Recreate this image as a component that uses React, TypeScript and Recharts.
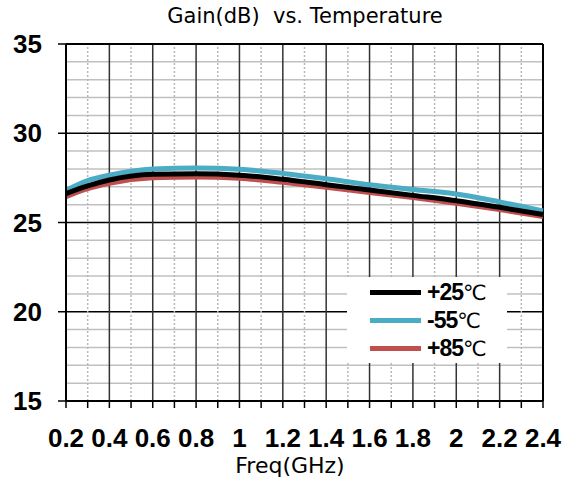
import React from 'react'
import { CartesianGrid, Line, LineChart, ReferenceLine, XAxis, YAxis } from 'recharts'

const freq = [0.2, 0.3, 0.4, 0.6, 0.8, 1, 1.2, 1.4, 1.6, 1.8, 2, 2.2, 2.4]
const gain25 = [26.62, 27.05, 27.38, 27.7, 27.73, 27.65, 27.42, 27.12, 26.82, 26.52, 26.22, 25.85, 25.45]
const gainM55 = [26.8, 27.35, 27.65, 28.0, 28.05, 27.98, 27.75, 27.45, 27.12, 26.85, 26.6, 26.15, 25.65]
const gain85 = [26.45, 26.9, 27.2, 27.5, 27.55, 27.48, 27.25, 26.98, 26.68, 26.4, 26.08, 25.72, 25.33]

const xTicks = [0.2, 0.3, 0.4, 0.5, 0.6, 0.7, 0.8, 0.9, 1, 1.1, 1.2, 1.3, 1.4, 1.5, 1.6, 1.7, 1.8, 1.9, 2, 2.1, 2.2, 2.3, 2.4]
const xMajor = [0.4, 0.6, 0.8, 1, 1.2, 1.4, 1.6, 1.8, 2, 2.2]
const xMinor = [0.3, 0.5, 0.7, 0.9, 1.1, 1.3, 1.5, 1.7, 1.9, 2.1, 2.3]
const yTicks = [15, 20, 25, 30, 35]
const yMinor = [16, 17, 18, 19, 21, 22, 23, 24, 26, 27, 28, 29, 31, 32, 33, 34]

const series = [
  { key: 'g25', name: '+25', color: '#000000', values: gain25 },
  { key: 'gm55', name: '-55', color: '#4bacc6', values: gainM55 },
  { key: 'g85', name: '+85', color: '#c0504d', values: gain85 },
]

const data = freq.map((f, i) => ({
  f,
  g25: gain25[i],
  gm55: gainM55[i],
  g85: gain85[i],
}))

const tickFont = { fontFamily: 'Liberation Sans, Arial, sans-serif', fontSize: 26, fontWeight: 'bold', fill: '#000' }

const LegendBox = () => (
  <div
    style={{
      position: 'absolute',
      left: 347,
      top: 277,
      background: '#fff',
      width: 160,
      height: 86,
      paddingTop: 1,
      boxSizing: 'border-box',
    }}
  >
    {series.map((s) => (
      <div key={s.key} style={{ display: 'flex', alignItems: 'center', height: 28 }}>
        <div style={{ marginLeft: 23, width: 51, height: 5, background: s.color }} />
        <span
          style={{
            marginLeft: 6,
            fontFamily: 'Liberation Sans, Arial, sans-serif',
            fontWeight: 'bold',
            fontSize: 23,
            lineHeight: '24px',
            letterSpacing: -1,
            color: '#000',
          }}
        >
          {s.name}
          <span
            style={{
              fontFamily: 'DejaVu Sans, sans-serif',
              fontWeight: 'normal',
              fontSize: 21,
              lineHeight: '24px',
              letterSpacing: 0,
            }}
          >
            ℃
          </span>
        </span>
      </div>
    ))}
  </div>
)

export default function App() {
  return (
    <div style={{ position: 'absolute', left: 0, top: 0, width: 563, height: 479, background: '#fff' }}>
      <div
        style={{
          position: 'absolute',
          top: 4,
          left: 0,
          width: 610,
          textAlign: 'center',
          fontFamily: 'DejaVu Sans, sans-serif',
          fontSize: 21,
          color: '#000',
        }}
      >
        Gain(dB)&nbsp;&nbsp;vs. Temperature
      </div>
      <LineChart width={563} height={479} data={data} margin={{ top: 44, right: 20, bottom: 0, left: 0 }}>
        <CartesianGrid vertical={false} stroke="#000" strokeWidth={1.5} />
        {yMinor.map((y) => (
          <ReferenceLine key={'y' + y} y={y} stroke="#c0c0c0" strokeWidth={1.5} />
        ))}
        {xMinor.map((x) => (
          <ReferenceLine key={'xm' + x} x={x} stroke="#b8b8b8" strokeDasharray="2 2" strokeWidth={1.5} />
        ))}
        {xMajor.map((x) => (
          <ReferenceLine key={'xM' + x} x={x} stroke="#333" strokeWidth={1.5} />
        ))}
        <ReferenceLine y={35} stroke="#000" strokeWidth={2} />
        <ReferenceLine x={2.4} stroke="#000" strokeWidth={2} />
        <XAxis
          dataKey="f"
          type="number"
          domain={[0.2, 2.4]}
          ticks={xTicks}
          interval={0}
          height={78}
          tickSize={7}
          tickMargin={21}
          axisLine={{ stroke: '#000', strokeWidth: 2 }}
          tickLine={{ stroke: '#000', strokeWidth: 1.5 }}
          tick={tickFont}
          tickFormatter={(v: number) => (Math.round(v * 10) % 2 === 0 ? String(v) : '')}
        />
        <YAxis
          type="number"
          domain={[15, 35]}
          ticks={yTicks}
          width={66}
          tickSize={8}
          tickMargin={16}
          axisLine={{ stroke: '#000', strokeWidth: 2 }}
          tickLine={{ stroke: '#000', strokeWidth: 1.5 }}
          tick={tickFont}
        />
        {series
          .slice()
          .reverse()
          .map((s) => (
            <Line
              key={s.key}
              dataKey={s.key}
              name={s.name + '℃'}
              type="monotone"
              stroke={s.color}
              strokeWidth={5}
              dot={false}
              activeDot={false}
              isAnimationActive={false}
            />
          ))}
      </LineChart>
      <LegendBox />
      <div
        style={{
          position: 'absolute',
          top: 456,
          left: 0,
          width: 580,
          textAlign: 'center',
          fontFamily: 'DejaVu Sans, sans-serif',
          fontSize: 22,
          lineHeight: '20px',
          color: '#000',
        }}
      >
        Freq(GHz)
      </div>
    </div>
  )
}
